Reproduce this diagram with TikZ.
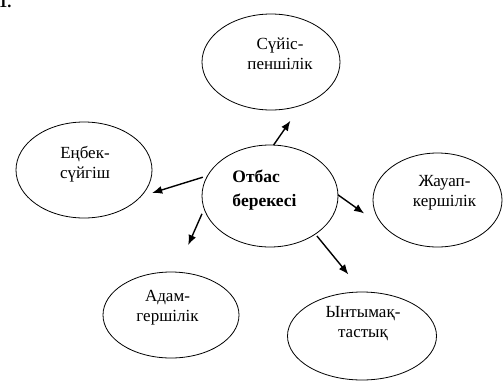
\documentclass[tikz,border=0pt]{standalone}
\usepackage{fontspec}
\setmainfont{Liberation Serif}
\usetikzlibrary{shapes.geometric,arrows.meta}
\tikzset{
    idea/.style={ellipse, draw, line width=0.8pt, inner sep=0pt, outer sep=0pt},
    idea text/.style={align=center, inner sep=0pt, font=\fontsize{17}{20}\selectfont},
    pointer/.style={-{Latex[length=10pt,width=8pt]}, line width=1.4pt},
}

\begin{document}
\begin{tikzpicture}[x=1pt,y=-1pt]% one unit = one pixel of the reference %%%
\useasboundingbox (0,0) rectangle (503,381);

\node[anchor=base west, inner sep=0pt, font=\fontsize{16.5}{20}\selectfont\bfseries] (num) at (-1,7) {1.};

\node[idea, minimum width=136pt, minimum height=102pt,
      label={[idea text, align=left, font=\fontsize{17.5}{24}\selectfont\bfseries,
              xshift=-5.5pt, yshift=5.5pt]center:Отбас\\берекесі}] (family) at (270,196) {};

\node[idea, minimum width=138pt, minimum height=96pt,
      label={[idea text, xshift=9pt, yshift=8pt]center:Сүйіс-\\пеншілік}] (love) at (271,62) {};
\node[idea, minimum width=136pt, minimum height=96pt,
      label={[idea text, xshift=1pt, yshift=6pt]center:Еңбек-\\сүйгіш}] (work) at (84,170) {};
\node[idea, minimum width=129pt, minimum height=94pt,
      label={[idea text, xshift=7pt, yshift=7.5pt]center:Жауап-\\кершілік}] (duty) at (437.5,200) {};
\node[idea, minimum width=136pt, minimum height=86pt,
      label={[idea text, xshift=-3.5pt, yshift=7.5pt]center:Адам-\\гершілік}] (human) at (171,315) {};
\node[idea, minimum width=149pt, minimum height=88pt,
      label={[idea text, xshift=1pt, yshift=12pt]center:Ынтымақ-\\тастық}] (unity) at (362,336) {};

\draw[pointer, shorten >=19pt] (family.86) -- (love.-55.5);
\draw[pointer, shorten <=5pt, shorten >=12pt] (family.162) -- (work.-25);
\draw[pointer, shorten <=5.5pt, shorten >=29.6pt] (family.191) -- (human.83.6);
\draw[pointer, shorten >=34pt] (family.1.4) -- (duty.216);
\draw[pointer, shorten <=2.5pt, shorten >=22.7pt] (family.-40) -- (unity.89);
\end{tikzpicture}
\end{document}
